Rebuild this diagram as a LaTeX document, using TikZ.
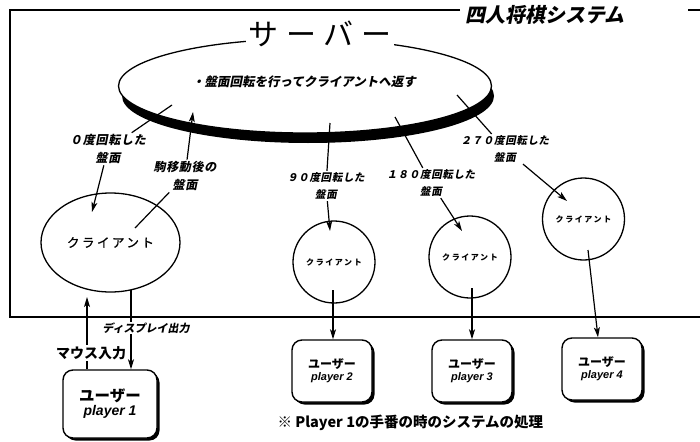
\documentclass[tikz,border=0pt]{standalone}
\usepackage{fontspec}
\setmainfont{Liberation Sans}
\newfontfamily\jp{Noto Sans CJK JP}
\newfontfamily\jpsl[FakeSlant=0.2]{Noto Sans CJK JP}
\newfontfamily\jpwide[LetterSpace=20]{Noto Sans CJK JP}
\newfontfamily\jpwidem[LetterSpace=20,FakeBold=0.8]{Noto Sans CJK JP}
\newfontfamily\jptitle[LetterSpace=25]{Noto Sans CJK JP}
\newfontfamily\jplbl[FakeSlant=0.2,LetterSpace=6]{Noto Sans CJK JP}
\usetikzlibrary{shapes.geometric,arrows.meta,shadows}
\tikzset{
  arr/.style={-{Stealth[length=10pt,width=6pt,inset=2.5pt]}},
  lblL/.style={font=\jplbl\bfseries\fontsize{12}{18}\selectfont, align=center, inner sep=1pt},
  lblR/.style={font=\jplbl\bfseries\fontsize{10.5}{17}\selectfont, align=center, inner sep=1pt},
  smallclient/.style={draw, circle, minimum size=82pt, inner sep=0pt, line width=1.3pt,
    font=\jpwide\bfseries\fontsize{8}{10}\selectfont},
  userbox/.style={draw, fill=white, rounded corners=10pt, line width=1.4pt, align=center, inner sep=0pt,
    drop shadow={shadow xshift=2.5pt, shadow yshift=-2.5pt, fill=black, opacity=1}},
  smallbox/.style={userbox, minimum width=80pt, minimum height=62pt},
}
\begin{document}
\begin{tikzpicture}[x=1pt,y=-1pt,line width=1.2pt]
\useasboundingbox (0,0) rectangle (700,441);
\fill[white] (0,0) rectangle (700,441);

% frame
\draw[line width=1.5pt] (460,10) -- (10,10) -- (10,317) -- (700,317);
\draw[line width=1.5pt] (688,10) -- (700,10);
\node[font=\jpsl\bfseries\fontsize{20}{22}\selectfont, inner sep=0pt] (title) at (545,15) {四人将棋システム};

% server
\fill[black] (308,96) ellipse [x radius=186pt, y radius=47pt];
\node[draw, ellipse, fill=white, minimum width=373pt, minimum height=94pt, inner sep=0pt, line width=1.3pt] (server) at (305,86) {};
\node[fill=white, inner sep=3pt, font=\jptitle\fontsize{30}{32}\selectfont] (servertitle) at (320,34) {サーバー};
\node[font=\jpsl\bfseries\fontsize{12.5}{14}\selectfont, inner sep=0pt] (servertext) at (304,82) {・盤面回転を行ってクライアントへ返す};

% clients
\node[draw, ellipse, minimum width=139pt, minimum height=99pt, inner sep=0pt, line width=1.3pt,
  font=\jpwidem\fontsize{12.5}{14}\selectfont] (c1) at (110.5,242.5) {クライアント};
\node[smallclient] (c2) at (334,262) {クライアント};
\node[smallclient] (c3) at (470,257) {クライアント};
\node[smallclient] (c4) at (583.5,219) {クライアント};

% users
\node[userbox, minimum width=94pt, minimum height=68pt] (u1) at (110,404)
  {{\jp\bfseries\fontsize{15.5}{21}\selectfont ユーザー}\\[2pt]{\bfseries\itshape\fontsize{14}{18}\selectfont player 1}};
\node[smallbox] (u2) at (332,371)
  {{\jp\bfseries\fontsize{12}{16}\selectfont ユーザー}\\{\bfseries\itshape\fontsize{11}{14}\selectfont player 2}};
\node[smallbox] (u3) at (472,371)
  {{\jp\bfseries\fontsize{12}{16}\selectfont ユーザー}\\{\bfseries\itshape\fontsize{11}{14}\selectfont player 3}};
\node[smallbox] (u4) at (602,369)
  {{\jp\bfseries\fontsize{12}{16}\selectfont ユーザー}\\{\bfseries\itshape\fontsize{11}{14}\selectfont player 4}};

% labels
\node[lblL] (L0) at (108,149) {０度回転した\\盤面};
\node[lblL] (Lmove) at (185,176) {駒移動後の\\盤面};
\node[lblR] (L90) at (326,186) {９０度回転した\\盤面};
\node[lblR] (L180) at (431,183) {１８０度回転した\\盤面};
\node[lblR] (L270) at (505,149) {２７０度回転した\\盤面};

% connector end points
\coordinate (s0) at (172,105);
\coordinate (a0) at (92,212);
\coordinate (m0) at (135,228);
\coordinate (m1) at (193,112);
\coordinate (s90) at (330,123);
\coordinate (a90) at (330,231);
\coordinate (s180) at (395,117);
\coordinate (a180) at (462,231);
\coordinate (s270) at (457,95);
\coordinate (a270) at (567,201);
\coordinate (c2o) at (333,290);
\coordinate (c3o) at (472,288);
\coordinate (c4o) at (588,250);
\coordinate (d1) at (131,290);
\coordinate (up1) at (87,297);

% server <-> client 1
\draw (s0) -- (L0);
\draw[arr] (L0) -- (a0);
\draw (m0) -- (Lmove);
\draw[arr] (Lmove) -- (m1);

% server -> other clients
\draw (s90) -- (L90);
\draw[arr] (L90) -- (a90);
\draw (s180) -- (L180);
\draw[arr] (L180) -- (a180);
\draw (s270) -- (L270);
\draw[arr] (L270) -- (a270);

% clients -> users
\draw[arr] (c2o) -- (c2o |- u2.north);
\draw[arr] (c3o) -- (c3o |- u3.north);
\draw[arr] (c4o) -- ([xshift=-4pt]u4.north);

% client 1 <-> user 1
\draw[arr] (d1) -- (d1 |- u1.north);
\draw[arr] (up1 |- u1.north) -- (up1);
\node[fill=white, inner sep=1pt, font=\jpsl\bfseries\fontsize{11}{13}\selectfont] (disp) at (146,328) {ディスプレイ出力};
\node[fill=white, inner sep=1pt, font=\jp\bfseries\fontsize{14}{16}\selectfont] (mouse) at (91,353) {マウス入力};

% caption
\node[anchor=west, inner sep=0pt, font=\jp\bfseries\fontsize{14.5}{17}\selectfont] (caption) at (277,423) {※ Player 1の手番の時のシステムの処理};
\end{tikzpicture}
\end{document}
